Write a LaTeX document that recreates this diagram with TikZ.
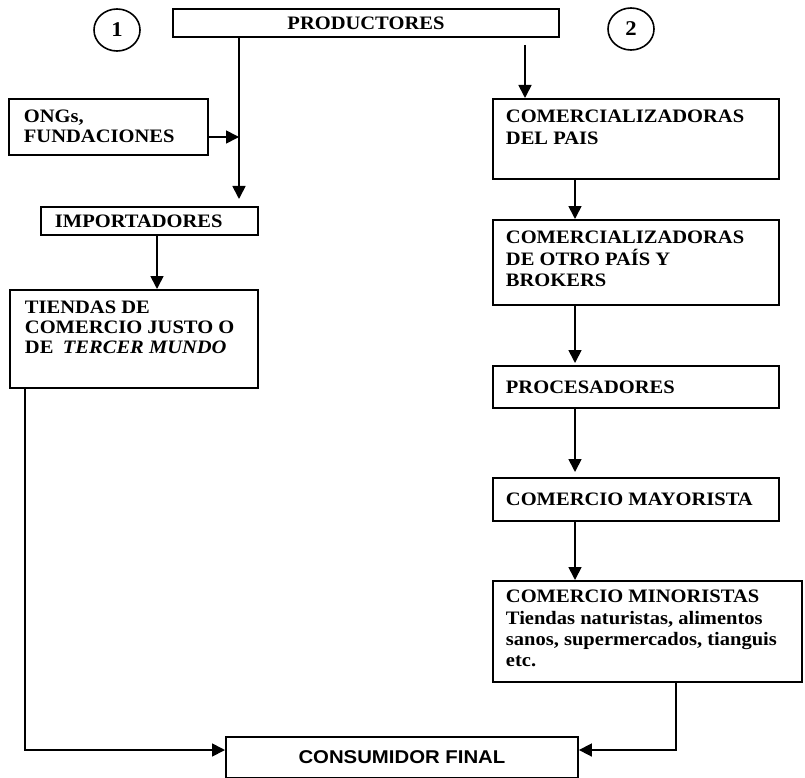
\documentclass[tikz,border=0pt]{standalone}
\usepackage{fontspec}
\setmainfont{Liberation Serif}[FakeStretch=1.08]
\newfontfamily\consfont{Liberation Sans}[FakeStretch=1.1]
\usetikzlibrary{arrows.meta,calc,shapes.geometric}
\newcommand{\mainfs}{\fontsize{19}{22}\selectfont\bfseries}
\newcommand{\bt}[4]{\parbox[c][#2][#3]{#1}{\raggedright #4}}
\begin{document}
\begin{tikzpicture}[x=1pt,y=-1pt,
  tbox/.style={draw, line width=1.9pt, inner xsep=13pt, inner ysep=11.4pt, anchor=north west, font=\mainfs},
  sbox/.style={draw, line width=1.9pt, inner xsep=13pt, inner ysep=0pt, anchor=north west, font=\mainfs},
  conn/.style={line width=1.7pt, -{Triangle[length=13pt,width=13pt]}},
  plain/.style={line width=1.7pt},
  num/.style={draw, ellipse, line width=1.6pt, minimum width=46pt, minimum height=42pt, inner sep=0pt, font=\fontsize{21}{22}\selectfont\bfseries}]
\useasboundingbox (0,0) rectangle (805,778);

% header
\node[draw, line width=1.9pt, minimum width=386pt, minimum height=28pt, inner sep=0pt, anchor=north west, font=\mainfs] (prod) at (172,8) {PRODUCTORES};
\node[num] (n1) at (117,30) {1};
\node[num] (n2) at (631,29) {2};

% left column
\node[tbox, inner xsep=15pt] (ongs) at (8,98) {\bt{169pt}{33.2pt}{t}{\fontsize{19}{20}\selectfont ONGs,\\FUNDACIONES}};
\node[sbox, inner xsep=14pt] (imp) at (40,206) {\bt{189pt}{28pt}{c}{IMPORTADORES}};
\node[tbox, inner xsep=15pt] (tiendas) at (9,289) {\bt{218pt}{75.2pt}{t}{\fontsize{19}{20}\selectfont TIENDAS DE\\COMERCIO JUSTO O\\DE\enspace\textit{TERCER MUNDO}}};

% right column
\node[tbox] (com1) at (492,98) {\bt{260pt}{57.2pt}{t}{COMERCIALIZADORAS\\DEL PAIS}};
\node[tbox] (com2) at (492,219) {\bt{260pt}{62.2pt}{t}{\fontsize{19}{21.5}\selectfont COMERCIALIZADORAS\\DE OTRO PAÍS Y\\BROKERS}};
\node[sbox] (proc) at (492,365) {\bt{260pt}{42pt}{c}{PROCESADORES}};
\node[sbox] (may) at (492,477) {\bt{260pt}{43pt}{c}{COMERCIO MAYORISTA}};
\node[tbox, inner ysep=9.4pt] (min) at (492,580) {\bt{283pt}{82.2pt}{t}{\fontsize{19}{21.3}\selectfont COMERCIO MINORISTAS\\Tiendas naturistas, alimentos\\sanos, supermercados, tianguis\\etc.}};

% bottom
\node[draw, line width=1.9pt, minimum width=352pt, minimum height=41pt, inner sep=0pt, anchor=north west, font=\consfont\fontsize{18.5}{22}\selectfont\bfseries] (cons) at (225,736) {CONSUMIDOR FINAL};

% connector coordinates
\coordinate (j) at (239,137);
\coordinate (ca) at (525,0);
\coordinate (cb) at (575,0);
\coordinate (ia) at (157,0);
\coordinate (ta) at (25,750);
\coordinate (ma) at (676,750);

% connectors
\draw[plain] (prod.south -| j) -- (j);
\draw[conn, shorten >=7pt] (j) -- (imp.north -| j);
\draw[conn] (ongs.east |- j) -- (j);
\draw[conn] (imp.south -| ia) -- (tiendas.north -| ia);
\draw[conn, shorten <=7pt] (prod.south -| ca) -- (com1.north -| ca);
\draw[conn] (com1.south -| cb) -- (com2.north -| cb);
\draw[conn, shorten >=2pt] (com2.south -| cb) -- (proc.north -| cb);
\draw[conn, shorten >=5pt] (proc.south -| cb) -- (may.north -| cb);
\draw[conn] (may.south -| cb) -- (min.north -| cb);
\draw[conn] (tiendas.south -| ta) -- (ta) -- (cons.west |- ta);
\draw[conn] (min.south -| ma) -- (ma) -- (cons.east |- ma);
\end{tikzpicture}
\end{document}
